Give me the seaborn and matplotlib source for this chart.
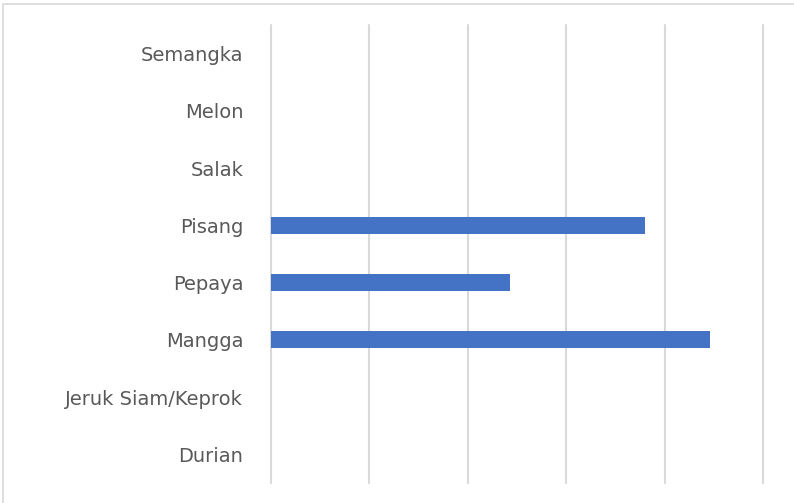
import pandas as pd
import matplotlib.pyplot as plt
import seaborn as sns
from matplotlib.patches import Rectangle

# --- Data (top to bottom as drawn) ---
FRUITS = ["Semangka", "Melon", "Salak", "Pisang", "Pepaya", "Mangga",
          "Jeruk Siam/Keprok", "Durian"]
VALUES = [0, 0, 0, 38.0, 24.3, 44.6, 0, 0]

BAR_COLOR = "#4472C4"
GRID_COLOR = "#D9D9D9"
TEXT_COLOR = "#595959"

df = pd.DataFrame({"fruit": FRUITS, "value": VALUES})

sns.set_style("white")
# wide face to match the stretched labels of the original
plt.rcParams["font.family"] = ["DejaVu Sans"]

fig = plt.figure(figsize=(7.94, 5.03), dpi=100)
ax = fig.add_axes([271 / 794, 20 / 503, 492 / 794, 458 / 503])

sns.barplot(data=df, x="value", y="fruit", order=FRUITS, color=BAR_COLOR,
            orient="h", width=0.3, linewidth=0, saturation=1, ax=ax)

ax.set_xlim(0, 50)
ax.set_ylim(len(FRUITS) - 0.5, -0.5)
ax.set_xticks(range(0, 51, 10))
ax.xaxis.grid(True, color=GRID_COLOR, linewidth=1.5)
for gl in ax.get_xgridlines():
    gl.set_clip_on(False)
ax.set_axisbelow(True)
ax.tick_params(axis="x", labelbottom=False, length=0)
ax.tick_params(axis="y", length=0, pad=20, labelsize=14, labelcolor=TEXT_COLOR)
ax.set_xlabel("")
ax.set_ylabel("")
for s in ax.spines.values():
    s.set_visible(False)

# outer chart border (cropped at right and bottom)
fig.patches.append(Rectangle((3 / 794, -0.1), 1.1, (503 - 4) / 503 + 0.1,
                             transform=fig.transFigure, fill=False,
                             edgecolor=GRID_COLOR, linewidth=1.2))

fig.savefig("out.png", dpi=100)
